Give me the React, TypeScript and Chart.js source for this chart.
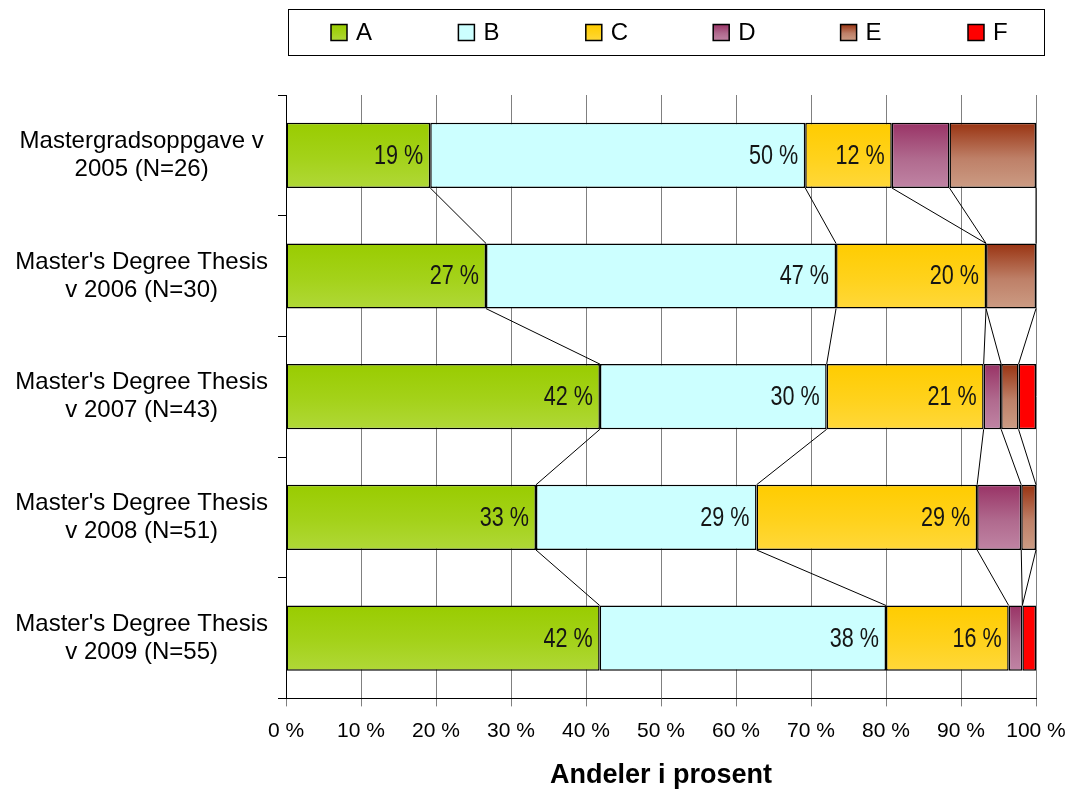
import React, { useEffect, useRef } from "react";
import { Chart, registerables } from "chart.js";

Chart.register(...registerables);

const categories: string[][] = [
  ["Mastergradsoppgave v", "2005 (N=26)"],
  ["Master's Degree Thesis", "v 2006 (N=30)"],
  ["Master's Degree Thesis", "v 2007 (N=43)"],
  ["Master's Degree Thesis", "v 2008 (N=51)"],
  ["Master's Degree Thesis", "v 2009 (N=55)"],
];

const seriesNames = ["A", "B", "C", "D", "E", "F"];

const valuesA = [19.23, 26.67, 41.86, 33.33, 41.82];
const valuesB = [50.0, 46.67, 30.23, 29.41, 38.18];
const valuesC = [11.54, 20.0, 20.93, 29.41, 16.36];
const valuesD = [7.69, 0, 2.33, 5.88, 1.82];
const valuesE = [11.54, 6.66, 2.32, 1.97, 0];
const valuesF = [0, 0, 2.33, 0, 1.82];

const xTicks = [0, 10, 20, 30, 40, 50, 60, 70, 80, 90, 100];
const labeledSeries = [0, 1, 2];

// gradient stops per series: [top, middle, bottom]
const seriesColors: string[][] = [
  ["#99CC00", "#A4D21A", "#B0D838"],
  ["#CCFFFF", "#CCFFFF", "#CCFFFF"],
  ["#FFCC00", "#FFD21C", "#FFD83A"],
  ["#993366", "#B06A8E", "#C084A4"],
  ["#993311", "#BE8068", "#CC9C84"],
  ["#FF0000", "#FF0000", "#FF0000"],
];

const allValues = [valuesA, valuesB, valuesC, valuesD, valuesE, valuesF];
const BAR_PCT = 0.54;
const FONT = '"Liberation Sans", Arial, sans-serif';

function makeGradient(ctx: CanvasRenderingContext2D, top: number, bottom: number, cols: string[]) {
  const g = ctx.createLinearGradient(0, top, 0, bottom);
  g.addColorStop(0, cols[0]);
  g.addColorStop(0.55, cols[1]);
  g.addColorStop(1, cols[2]);
  return g;
}

const seriesLinesPlugin = {
  id: "seriesLines",
  beforeDatasetsDraw(chart: any) {
    const ctx = chart.ctx as CanvasRenderingContext2D;
    const x = chart.scales.x;
    const ref = chart.getDatasetMeta(0).data;
    ctx.save();
    ctx.strokeStyle = "#000";
    ctx.lineWidth = 1;
    for (let i = 0; i < categories.length - 1; i++) {
      const a = ref[i];
      const b = ref[i + 1];
      const y1 = a.y + a.height / 2;
      const y2 = b.y - b.height / 2;
      let c1 = 0;
      let c2 = 0;
      for (let k = 0; k < allValues.length - 1; k++) {
        c1 += allValues[k][i];
        c2 += allValues[k][i + 1];
        ctx.beginPath();
        ctx.moveTo(x.getPixelForValue(Math.min(c1, 100)), y1);
        ctx.lineTo(x.getPixelForValue(Math.min(c2, 100)), y2);
        ctx.stroke();
      }
    }
    ctx.restore();
  },
};

const labelsPlugin = {
  id: "barLabels",
  afterDatasetsDraw(chart: any) {
    const ctx = chart.ctx as CanvasRenderingContext2D;
    ctx.save();
    ctx.font = `27px ${FONT}`;
    ctx.fillStyle = "#151515";
    ctx.textAlign = "right";
    ctx.textBaseline = "middle";
    labeledSeries.forEach((k) => {
      const meta = chart.getDatasetMeta(k);
      meta.data.forEach((el: any, i: number) => {
        const v = allValues[k][i];
        ctx.save();
        ctx.translate(el.x - 7, el.y + 1);
        ctx.scale(0.8, 1);
        ctx.fillText(`${Math.round(v)} %`, 0, 0);
        ctx.restore();
      });
    });
    ctx.restore();
  },
};

const legendPlugin = {
  id: "boxLegend",
  afterDraw(chart: any) {
    const ctx = chart.ctx as CanvasRenderingContext2D;
    ctx.save();
    ctx.strokeStyle = "#000";
    ctx.lineWidth = 1;
    ctx.strokeRect(288.5, 9.5, 756, 46);
    ctx.font = `24px ${FONT}`;
    ctx.textBaseline = "middle";
    ctx.textAlign = "left";
    seriesNames.forEach((name, i) => {
      const sx = 331 + i * 127.4;
      const sy = 24.5;
      ctx.fillStyle = makeGradient(ctx, sy, sy + 16, seriesColors[i]);
      ctx.fillRect(sx, sy, 16, 16);
      ctx.lineWidth = 1.5;
      ctx.strokeStyle = "#000";
      ctx.strokeRect(sx, sy, 16, 16);
      ctx.fillStyle = "#000";
      ctx.fillText(name, sx + 25, 33);
    });
    ctx.restore();
  },
};

export default function App() {
  const ref = useRef<HTMLCanvasElement>(null);

  useEffect(() => {
    if (!ref.current) return;
    const datasets = seriesNames.map((name, k) => ({
      label: name,
      data: allValues[k],
      backgroundColor: (c: any) => {
        const chart = c.chart;
        const cols = seriesColors[k];
        if (c.type !== "data" || !chart.chartArea) return cols[1];
        const ys = chart.scales.y;
        const center = ys.getPixelForValue(c.dataIndex);
        const half = (ys.height / categories.length) * BAR_PCT / 2;
        return makeGradient(chart.ctx, center - half, center + half, cols);
      },
      borderColor: "#000",
      borderWidth: 1.5,
      borderSkipped: false,
      barPercentage: BAR_PCT,
      categoryPercentage: 1,
    }));

    const chart = new Chart(ref.current, {
      type: "bar",
      data: { labels: categories, datasets },
      plugins: [seriesLinesPlugin, labelsPlugin, legendPlugin],
      options: {
        indexAxis: "y",
        animation: false,
        responsive: true,
        maintainAspectRatio: false,
        layout: { padding: { top: 95, right: 36, bottom: 0, left: 0 } },
        plugins: {
          legend: { display: false },
          tooltip: { enabled: false },
        },
        scales: {
          x: {
            stacked: true,
            min: 0,
            max: 100,
            afterBuildTicks: (s: any) => {
              s.ticks = xTicks.map((v) => ({ value: v }));
            },
            afterFit: (s: any) => {
              s.paddingRight = 36;
            },
            ticks: {
              callback: (v: any) => `${v} %`,
              font: { family: FONT, size: 21 },
              color: "#000",
              padding: 12,
              maxRotation: 0,
            },
            grid: { color: "#808080", lineWidth: 1, tickLength: 8, tickColor: "#808080" },
            border: { color: "#000", width: 1 },
            title: {
              display: true,
              text: "Andeler i prosent",
              font: { family: FONT, size: 27, weight: "bold" },
              color: "#000",
              padding: { top: 4, bottom: 0 },
            },
          },
          y: {
            stacked: true,
            afterFit: (s: any) => {
              s.width = 286;
            },
            ticks: {
              font: { family: FONT, size: 24, lineHeight: 1.17 },
              color: "#000",
              crossAlign: "center",
              padding: 10,
            },
            grid: {
              offset: true,
              drawOnChartArea: false,
              tickLength: 8,
              color: "#000",
            },
            border: { color: "#000", width: 1 },
          },
        },
      } as any,
    });
    return () => chart.destroy();
  }, []);

  return (
    <div style={{ position: "fixed", left: 0, top: 0, width: 1072, height: 792, background: "#fff" }}>
      <canvas ref={ref} />
    </div>
  );
}
